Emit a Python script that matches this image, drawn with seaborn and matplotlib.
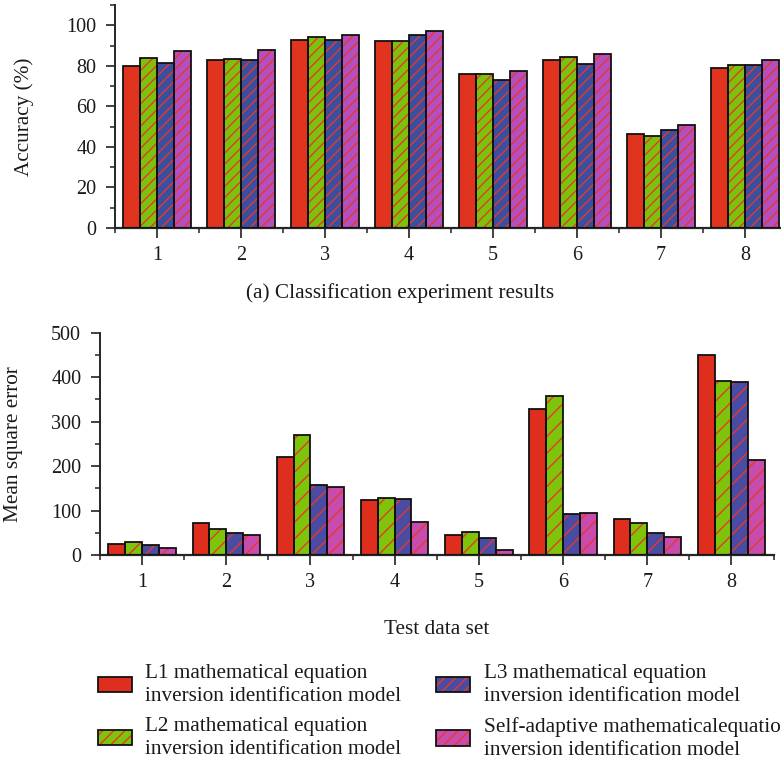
import numpy as np
import pandas as pd
import seaborn as sns
import matplotlib
matplotlib.use("Agg")
import matplotlib.pyplot as plt
from matplotlib.patches import Patch, Rectangle
from matplotlib.ticker import MultipleLocator, FixedLocator

# ---------------- data ----------------
datasets = ["1", "2", "3", "4", "5", "6", "7", "8"]
models = [
    "L1 mathematical equation\ninversion identification model",
    "L2 mathematical equation\ninversion identification model",
    "L3 mathematical equation\ninversion identification model",
    "Self-adaptive mathematicalequation\ninversion identification model",
]
acc_l1 = [80.0, 83.0, 92.5, 92.0, 76.0, 83.0, 46.5, 79.0]
acc_l2 = [84.0, 83.5, 94.0, 92.0, 76.0, 84.5, 45.5, 80.5]
acc_l3 = [81.5, 83.0, 92.5, 95.0, 73.0, 81.0, 48.5, 80.5]
acc_sa = [87.5, 88.0, 95.0, 97.0, 77.5, 86.0, 51.0, 83.0]

mse_l1 = [24, 73, 221, 124, 44, 328, 81, 450]
mse_l2 = [29, 59, 270, 128, 51, 358, 71, 391]
mse_l3 = [23, 49, 158, 127, 39, 92, 49, 389]
mse_sa = [15, 46, 154, 75, 12, 95, 41, 213]

caption = "(a) Classification experiment results"
ylabel_top = "Accuracy (%)"
ylabel_bot = "Mean square error"
xlabel_bot = "Test data set"

# ---------------- style ----------------
sns.set_style("ticks")
plt.rcParams["font.family"] = ["Liberation Serif", "DejaVu Serif"]
plt.rcParams["hatch.linewidth"] = 1.0
FS_TICK = 14.5
FS_TEXT = 15.3
TXT = "#1a1a1a"

colors_top = ["#E0341F", "#7CC20C", "#3A4FA0", "#B44FC0"]
colors_bot = ["#DF2E1E", "#7DC40B", "#4A4BA3", "#C84CAE"]
hatch_color = "#E8382A"


def make_df(vals):
    rows = []
    for m, series in zip(models, vals):
        for d, v in zip(datasets, series):
            rows.append({"set": d, "model": m, "value": v})
    return pd.DataFrame(rows)


def style_bars(ax, df, palette, hatch):
    sns.barplot(data=df, x="set", y="value", hue="model", hue_order=models,
                order=datasets, palette=palette, width=0.8, legend=False,
                saturation=1, ax=ax, edgecolor="none", linewidth=0)
    bars = [p for p in ax.patches if isinstance(p, Rectangle)]
    n = len(datasets)
    for i, p in enumerate(bars):
        if i // n > 0:
            p.set_hatch(hatch)
            p.set_edgecolor(hatch_color)
            p.set_linewidth(0)
    for p in bars:
        ax.add_patch(Rectangle((p.get_x(), p.get_y()), p.get_width(), p.get_height(),
                               fill=False, edgecolor="#111111", linewidth=1.3, zorder=3))


def style_axes(ax):
    sns.despine(ax=ax)
    ax.spines["left"].set_linewidth(1.4)
    ax.spines["bottom"].set_linewidth(1.6)
    ax.set_xlim(-0.5, len(datasets) - 0.5)
    ax.xaxis.set_minor_locator(FixedLocator(np.arange(-0.5, len(datasets), 1.0)))
    ax.tick_params(axis="x", which="major", length=7, width=1.3, labelsize=FS_TICK, pad=6,
                   color="#333333", labelcolor=TXT)
    ax.tick_params(axis="x", which="minor", length=3.5, width=1.2, color="#333333")
    ax.tick_params(axis="y", which="major", length=6.5, width=1.3, labelsize=FS_TICK, pad=7,
                   color="#333333", labelcolor=TXT)
    ax.tick_params(axis="y", which="minor", length=3.5, width=1.2, color="#333333")


W, H = 781, 763
fig = plt.figure(figsize=(W / 100, H / 100), dpi=100)

# top axes
ax1 = fig.add_axes([115 / W, 1 - 228 / H, 672 / W, 223 / H])
style_bars(ax1, make_df([acc_l1, acc_l2, acc_l3, acc_sa]), colors_top, "///")
ax1.set_ylim(0, 110)
ax1.yaxis.set_major_locator(FixedLocator([0, 20, 40, 60, 80, 100]))
ax1.yaxis.set_minor_locator(FixedLocator([10, 30, 50, 70, 90, 110]))
style_axes(ax1)
ax1.set_xlabel("")
ax1.set_ylabel(ylabel_top, fontsize=FS_TEXT, color=TXT)
ax1.yaxis.set_label_coords((34 - 115) / 672, 0.5)
fig.text(400 / W, 1 - 293 / H, caption, fontsize=FS_TEXT, ha="center", va="center", color=TXT)

# bottom axes
ax2 = fig.add_axes([100 / W, 1 - 555 / H, 673.5 / W, 222.3 / H])
style_bars(ax2, make_df([mse_l1, mse_l2, mse_l3, mse_sa]), colors_bot, "//")
ax2.set_ylim(0, 500)
ax2.yaxis.set_major_locator(MultipleLocator(100))
ax2.yaxis.set_minor_locator(MultipleLocator(50))
style_axes(ax2)
ax2.set_xlabel(xlabel_bot, fontsize=FS_TEXT, labelpad=20, color=TXT)
ax2.set_ylabel(ylabel_bot, fontsize=FS_TEXT, color=TXT)
ax2.yaxis.set_label_coords((23 - 100) / 673.5, 0.5)

# legend
handles = []
for k, c in enumerate(colors_bot):
    fill = Patch(facecolor=c, edgecolor=hatch_color if k > 0 else c,
                 hatch="///" if k > 0 else None, linewidth=0)
    frame = Patch(facecolor="none", edgecolor="#111111", linewidth=1.3)
    handles.append((fill, frame))
leg = fig.legend(handles, models, loc="upper left", bbox_to_anchor=(98 / W, 1 - 664 / H),
                 ncol=2, frameon=False, fontsize=FS_TEXT, handlelength=1.6, handleheight=0.73,
                 handletextpad=0.63, columnspacing=1.63, labelspacing=0.5, borderpad=0,
                 borderaxespad=0)
for t in leg.get_texts():
    t.set_color(TXT)
    t.set_linespacing(1.3)

fig.savefig("out.png", dpi=100)
